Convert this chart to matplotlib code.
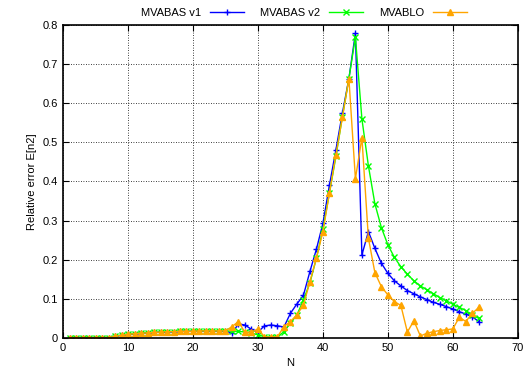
import numpy as np
import matplotlib
matplotlib.use("Agg")
import matplotlib.pyplot as plt

plt.rcParams["font.family"] = ["Liberation Sans", "DejaVu Sans"]

# N = 1..64
n_vals = list(range(1, 65))

low_common = [0.001, 0.001, 0.001, 0.001, 0.001, 0.001, 0.001, 0.004, 0.007, 0.009,
              0.011, 0.012, 0.013, 0.014, 0.015, 0.016, 0.016, 0.017, 0.017, 0.017,
              0.018, 0.018, 0.018, 0.018, 0.018]

v1_tail = [0.012, 0.036, 0.033, 0.022, 0.015, 0.031, 0.033, 0.031, 0.028, 0.063,
           0.087, 0.109, 0.170, 0.227, 0.293, 0.390, 0.481, 0.575, 0.663, 0.779,
           0.212, 0.272, 0.229, 0.191, 0.165, 0.146, 0.133, 0.121, 0.113, 0.105,
           0.098, 0.091, 0.086, 0.080, 0.074, 0.067, 0.061, 0.054, 0.042]

v2_tail = [0.017, 0.017, 0.015, 0.012, 0.008, 0.003, 0.002, 0.003, 0.016, 0.038,
           0.059, 0.097, 0.141, 0.204, 0.278, 0.370, 0.464, 0.566, 0.663, 0.769,
           0.560, 0.440, 0.343, 0.282, 0.238, 0.206, 0.182, 0.163, 0.146, 0.133,
           0.123, 0.113, 0.103, 0.095, 0.086, 0.078, 0.070, 0.059, 0.050]

lo_tail = [0.029, 0.042, 0.014, 0.015, 0.023, 0.003, 0.002, 0.003, 0.029, 0.042,
           0.059, 0.084, 0.144, 0.204, 0.272, 0.370, 0.468, 0.564, 0.663, 0.407,
           0.512, 0.255, 0.167, 0.131, 0.110, 0.093, 0.083, 0.015, 0.044, 0.005,
           0.012, 0.016, 0.019, 0.021, 0.023, 0.053, 0.042, 0.063, 0.078]

mvabas_v1 = low_common + v1_tail
mvabas_v2 = low_common + v2_tail
mvablo = low_common + lo_tail

fig = plt.figure(figsize=(5.3, 3.73), dpi=100)
ax = fig.add_axes([0.119, 0.094, 0.858, 0.839])

ax.plot(n_vals, mvabas_v1, color="#0000ff", marker="+", markersize=5, linewidth=1, label="MVABAS v1")
ax.plot(n_vals, mvabas_v2, color="#00ff00", marker="x", markersize=4, linewidth=1, label="MVABAS v2")
ax.plot(n_vals, mvablo, color="#ffa500", marker="^", markersize=4, linewidth=1, label="MVABLO")

ax.set_xlim(0, 70)
ax.set_ylim(0, 0.8)
ax.set_xticks(range(0, 71, 10))
ax.set_yticks(np.arange(0, 0.81, 0.1))
ax.set_yticklabels(["0"] + [f"{v:.1f}" for v in np.arange(0.1, 0.81, 0.1)])
ax.tick_params(direction="in", top=True, right=True, labelsize=8, length=4)
ax.grid(True, color="black", linestyle=(0, (1, 2)), linewidth=0.6)
for s in ax.spines.values():
    s.set_linewidth(1.2)

ax.set_xlabel("N", fontsize=8)
ax.set_ylabel("Relative error E[n2]", fontsize=8)

ax.legend(loc="lower center", bbox_to_anchor=(0.53, 1.0), ncol=3, frameon=False,
          fontsize=8, markerfirst=False, handlelength=3, columnspacing=1.5,
          borderaxespad=0.2)

fig.savefig("out.png", dpi=100)
